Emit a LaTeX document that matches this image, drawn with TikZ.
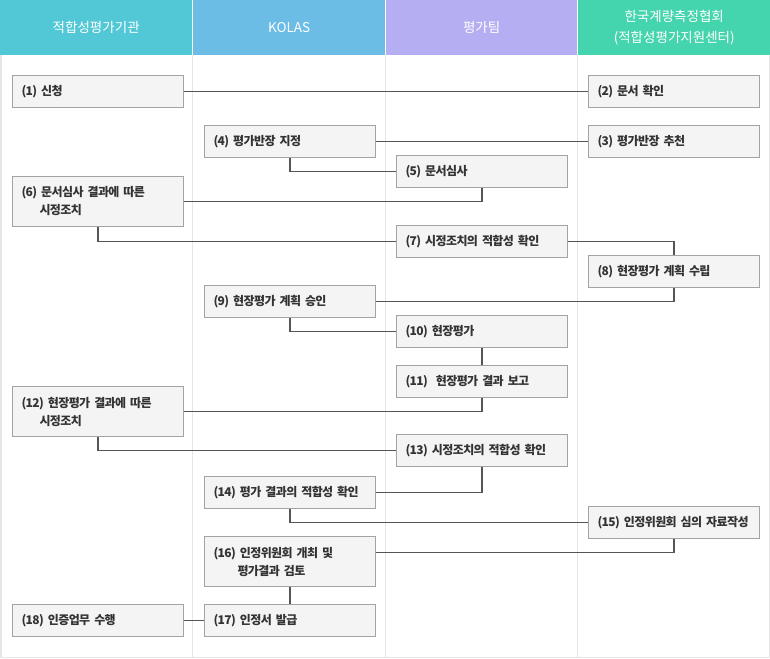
\documentclass[tikz,border=0pt]{standalone}
\usepackage{fontspec}
\setmainfont{Noto Sans CJK KR}
\newfontfamily\boxfont{Noto Sans CJK KR}[LetterSpace=-5, WordSpace=0.7]
\usetikzlibrary{positioning}
\definecolor{hA}{HTML}{52C8D6}
\definecolor{hB}{HTML}{6BBDE5}
\definecolor{hC}{HTML}{B5AEF2}
\definecolor{hD}{HTML}{45D5AE}
\definecolor{sepgray}{HTML}{E6E6E6}
\definecolor{boxfill}{HTML}{F4F4F4}
\definecolor{boxline}{HTML}{A3A3A3}
\definecolor{txt}{HTML}{333333}
\definecolor{conn}{HTML}{555555}
\begin{document}
\begin{tikzpicture}[x=1pt,y=-1pt,
  stepbox/.style={draw=boxline, fill=boxfill, line width=1pt, anchor=north west,
    minimum width=171pt, minimum height=32pt, text width=153pt, inner xsep=9pt, inner ysep=0pt,
    align=left, text=txt, font=\boxfont\bfseries\fontsize{12}{18}\selectfont},
  tallbox/.style={stepbox, minimum height=50pt},
  head/.style={anchor=north west, minimum height=55pt, inner sep=0pt, text=white,
    align=center, font=\fontsize{13.5}{21}\selectfont},
  link/.style={draw=conn, line width=1.2pt}]
\useasboundingbox (0,0) rectangle (770,658);
\fill[white] (0,0) rectangle (770,658);
% headers
\node[head, fill=hA, minimum width=192pt] (hA) at (0,0) {적합성평가기관};
\node[head, fill=hB, minimum width=192pt] (hB) at (193,0) {KOLAS};
\node[head, fill=hC, minimum width=191pt] (hC) at (386,0) {평가팀};
\node[head, fill=hD, minimum width=192pt] (hD) at (578,0) {한국계량측정협회\\(적합성평가지원센터)};
% separators and frame
\draw[sepgray, line width=1pt] (192.5,55) -- (192.5,658);
\draw[sepgray, line width=1pt] (385.5,55) -- (385.5,658);
\draw[sepgray, line width=1pt] (577.5,55) -- (577.5,658);
\draw[sepgray, line width=1.5pt] (0.75,55) -- (0.75,657.25) -- (769.25,657.25) -- (769.25,55);
% boxes
\node[stepbox] (n1) at (12,75) {(1) 신청};
\node[stepbox] (n2) at (588,75) {(2) 문서 확인};
\node[stepbox] (n3) at (588,125) {(3) 평가반장 추천};
\node[stepbox] (n4) at (204,125) {(4) 평가반장 지정};
\node[stepbox] (n5) at (396,155) {(5) 문서심사};
\node[tallbox] (n6) at (12,176) {(6) 문서심사 결과에 따른\\\hspace*{18pt}시정조치};
\node[stepbox] (n7) at (396,225) {(7) 시정조치의 적합성 확인};
\node[stepbox] (n8) at (588,255) {(8) 현장평가 계획 수립};
\node[stepbox] (n9) at (204,285) {(9) 현장평가 계획 승인};
\node[stepbox] (n10) at (396,315) {(10) 현장평가};
\node[stepbox] (n11) at (396,365) {(11)\ \ 현장평가 결과 보고};
\node[tallbox] (n12) at (12,386) {(12) 현장평가 결과에 따른\\\hspace*{18pt}시정조치};
\node[stepbox] (n13) at (396,434) {(13) 시정조치의 적합성 확인};
\node[stepbox] (n14) at (204,476) {(14) 평가 결과의 적합성 확인};
\node[stepbox] (n15) at (588,506) {\mbox{(15) 인정위원회 심의 자료작성}};
\node[tallbox] (n16) at (204,536) {(16) 인정위원회 개최 및\\\hspace*{24pt}평가결과 검토};
\node[stepbox] (n17) at (204,604) {(17) 인정서 발급};
\node[stepbox] (n18) at (12,604) {(18) 인증업무 수행};
% connectors
\draw[link] (n1.east) -- (n2.west);
\draw[link] (n4.east) -- (n3.west);
\draw[link] (n4.south) |- (n5.west);
\draw[link] (n6.east) -| (n5.south);
\draw[link] (n6.south) |- (n7.west);
\draw[link] (n7.east) -| (n8.north);
\draw[link] (n8.south) |- (n9.east);
\draw[link] (n9.south) |- (n10.west);
\draw[link] (n10.south) -- (n11.north);
\draw[link] (n11.south) |- (n12.east);
\draw[link] (n12.south) |- (n13.west);
\draw[link] (n13.south) |- (n14.east);
\draw[link] (n14.south) |- (n15.west);
\draw[link] (n15.south) |- ([yshift=9pt]n16.east);
\draw[link] (n16.south) -- (n17.north);
\draw[link] (n17.west) -- (n18.east);
\end{tikzpicture}
\end{document}
